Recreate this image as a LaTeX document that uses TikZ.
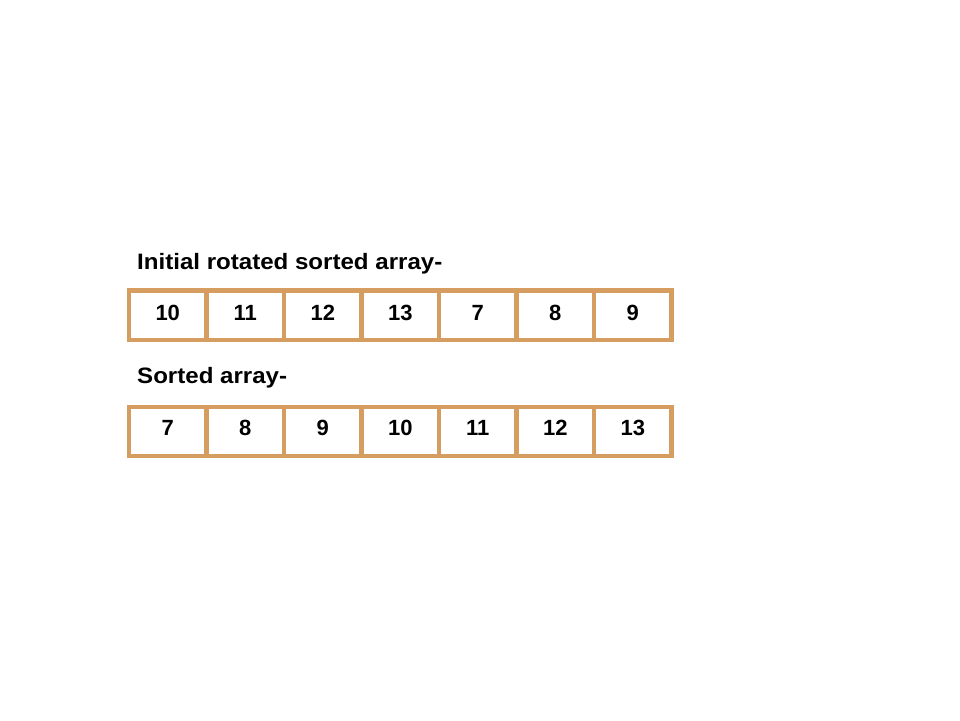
\documentclass[tikz,border=0pt]{standalone}
\usepackage{fontspec}
\setmainfont{Liberation Sans}
\newfontfamily\titlefont[FakeStretch=1.08]{Liberation Sans}
\definecolor{cellc}{RGB}{214,157,96}
\begin{document}
\begin{tikzpicture}[x=1pt,y=-1pt,
  cell/.style={draw=cellc,line width=4.2pt,minimum width=77.5pt,minimum height=49.2pt,inner sep=0pt,outer sep=0pt,
    font=\fontsize{22}{26}\selectfont\bfseries},
  num/.style={inner sep=0pt,font=\fontsize{22}{26}\selectfont\bfseries},
  title/.style={anchor=base west,inner sep=0pt,font=\titlefont\fontsize{22.3}{26}\selectfont\bfseries}]
\useasboundingbox (0,0) rectangle (960,720);
\node[title] (t1) at (137,269.5) {Initial rotated sorted array-};
\node[title] (t2) at (137,383.5) {Sorted array-};
\foreach \v [count=\i from 0] in {10,11,12,13,7,8,9}{
  \node[cell] (a\i) at ({129+77.5*\i+38.75},315) {};
  \node[num] (na\i) at ([yshift=2pt]a\i.center) {\v};}
\foreach \v [count=\i from 0] in {7,8,9,10,11,12,13}{
  \node[cell] (b\i) at ({129+77.5*\i+38.75},431.2) {};
  \node[num] (nb\i) at ([yshift=3pt]b\i.center) {\v};}
\end{tikzpicture}
\end{document}
